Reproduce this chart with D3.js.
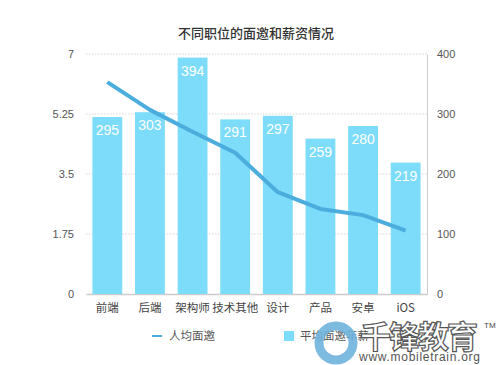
<!DOCTYPE html>
<html>
<head>
<meta charset="utf-8">
<script src="https://cdn.jsdelivr.net/npm/d3@7"></script>
<style>
    body { margin: 0; background: #fff; }
    text { font-family: "Noto Sans CJK SC", "Noto Sans", sans-serif; }
    .num { font-family: "Liberation Sans", Arial, sans-serif; }
</style>
</head>
<body>
<div id="chart"></div>
<script>
// data
var categories = ["前端", "后端", "架构师", "技术其他", "设计", "产品", "安卓", "iOS"];
var salary = [295, 303, 394, 291, 297, 259, 280, 219];
var invites = [6.18, 5.37, 4.73, 4.12, 2.97, 2.48, 2.30, 1.85];
var leftTicks = [0, 1.75, 3.5, 5.25, 7];
var rightTicks = [0, 100, 200, 300, 400];

var margin = { top: 54, right: 73, bottom: 71, left: 86 };
var width = 500 - margin.left - margin.right,
    height = 365 - margin.top - margin.bottom;

var svg = d3.select("#chart").append("svg")
    .attr("width", 500)
    .attr("height", 365);

var g = svg.append("g")
    .attr("transform", "translate(" + margin.left + "," + margin.top + ")");

// title
svg.append("text")
    .attr("x", 256)
    .attr("y", 38)
    .attr("text-anchor", "middle")
    .attr("font-size", 13)
    .attr("font-weight", 500)
    .attr("fill", "#333")
    .text("不同职位的面邀和薪资情况");

// scales
var x = d3.scaleBand()
    .domain(categories)
    .range([0, width])
    .paddingInner(0.3)
    .paddingOuter(0.15);

var yLeft = d3.scaleLinear().domain([0, 7]).range([height, 0]);
var yRight = d3.scaleLinear().domain([0, 400]).range([height, 0]);

// grid lines
g.selectAll(".grid")
    .data(leftTicks.filter(d => d > 0))
    .enter().append("line")
    .attr("class", "grid")
    .attr("x1", 0)
    .attr("x2", width)
    .attr("y1", d => yLeft(d))
    .attr("y2", d => yLeft(d))
    .attr("stroke", "#ccc")
    .attr("stroke-width", 0.8)
    .attr("stroke-dasharray", "1.5,1.5");

// axes
var leftAxis = g.append("g")
    .call(d3.axisLeft(yLeft).tickValues(leftTicks).tickSize(0).tickPadding(12)
        .tickFormat(d => d));
leftAxis.select(".domain").remove();

var rightAxis = g.append("g")
    .attr("transform", "translate(" + width + ",0)")
    .call(d3.axisRight(yRight).tickValues(rightTicks).tickSize(0).tickPadding(10));
rightAxis.select(".domain").attr("stroke", "#ccc");

leftAxis.selectAll(".tick text").attr("class", "num");
rightAxis.selectAll(".tick text").attr("class", "num");

var bottomAxis = g.append("g")
    .attr("transform", "translate(0," + height + ")")
    .call(d3.axisBottom(x).tickSize(0).tickPadding(10));
bottomAxis.select(".domain").attr("stroke", "#ccc").attr("stroke-width", 1.5);

g.selectAll(".tick text")
    .attr("fill", "#555")
    .attr("font-size", 11);
bottomAxis.selectAll(".tick text").attr("font-size", 11.5).attr("fill", "#444");

// bars
g.selectAll(".bar")
    .data(salary)
    .enter().append("rect")
    .attr("class", "bar")
    .attr("x", (d, i) => x(categories[i]))
    .attr("y", d => yRight(d))
    .attr("width", x.bandwidth())
    .attr("height", d => height - yRight(d))
    .attr("fill", "#7ddcf9");

g.selectAll(".bar-label")
    .data(salary)
    .enter().append("text")
    .attr("class", "bar-label num")
    .attr("x", (d, i) => x(categories[i]) + x.bandwidth() / 2)
    .attr("y", d => yRight(d) + 18)
    .attr("text-anchor", "middle")
    .attr("font-size", 14)
    .attr("fill", "#fff")
    .text(d => d);

// line
var line = d3.line()
    .x((d, i) => x(categories[i]) + x.bandwidth() / 2)
    .y(d => yLeft(d));

g.append("path")
    .datum(invites)
    .attr("d", line)
    .attr("fill", "none")
    .attr("stroke", "#4badde")
    .attr("stroke-width", 4)
    .attr("stroke-linejoin", "round");

// legend
var legend = svg.append("g");
legend.append("line")
    .attr("x1", 152).attr("x2", 162)
    .attr("y1", 336).attr("y2", 336)
    .attr("stroke", "#4badde").attr("stroke-width", 2);
legend.append("text")
    .attr("x", 169).attr("y", 340)
    .attr("font-size", 11.5).attr("fill", "#555")
    .text("人均面邀");
legend.append("rect")
    .attr("x", 284).attr("y", 331)
    .attr("width", 10).attr("height", 10)
    .attr("fill", "#7ddcf9");
legend.append("text")
    .attr("x", 300).attr("y", 340)
    .attr("font-size", 11.5).attr("fill", "#555")
    .text("平均面邀年薪");

// watermark (sits over the legend, as in the source image)
var wm = svg.append("g");
wm.append("circle")
    .attr("cx", 336).attr("cy", 343)
    .attr("r", 17)
    .attr("fill", "none")
    .attr("stroke", "#6fb3dc")
    .attr("stroke-width", 9)
    .attr("opacity", 0.9);
wm.append("text")
    .attr("x", 360).attr("y", 348)
    .attr("font-size", 31)
    .attr("font-weight", 700)
    .attr("fill", "#fff")
    .attr("stroke", "#555")
    .attr("stroke-width", 1.2)
    .attr("textLength", 118)
    .text("千锋教育");
wm.append("text")
    .attr("class", "num")
    .attr("x", 359).attr("y", 361)
    .attr("font-size", 12)
    .attr("fill", "#555")
    .attr("textLength", 121)
    .text("www.mobiletrain.org");
wm.append("text")
    .attr("class", "num")
    .attr("x", 484).attr("y", 328)
    .attr("font-size", 8)
    .attr("fill", "#444")
    .text("TM");
</script>
</body>
</html>
